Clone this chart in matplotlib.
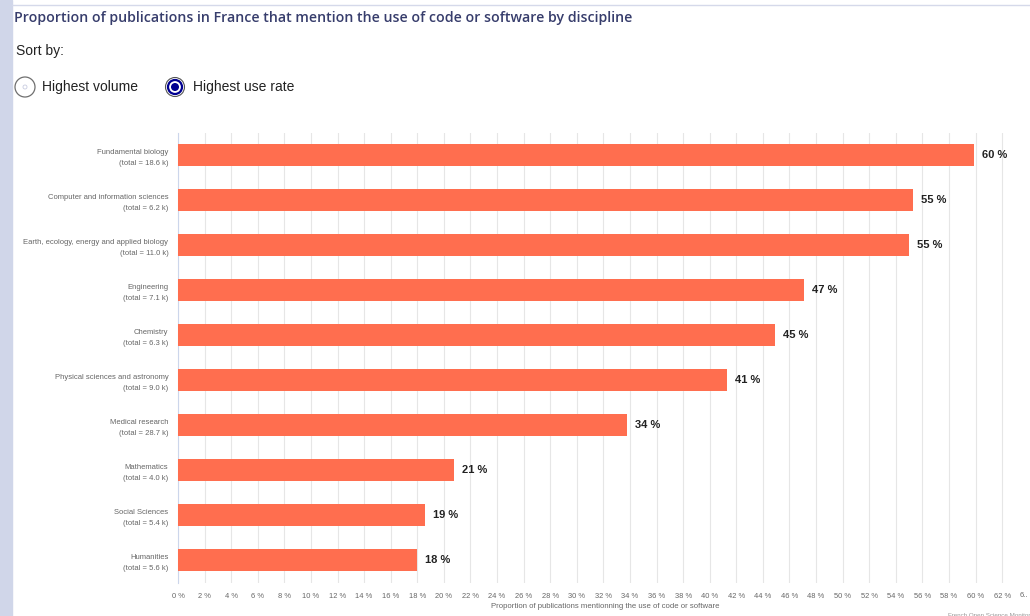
import numpy as np
import matplotlib
matplotlib.use('Agg')
import matplotlib.pyplot as plt
from matplotlib.patches import Circle, Rectangle

plt.rcParams['font.family'] = ['Liberation Sans', 'DejaVu Sans']

disciplines = ['Fundamental biology', 'Computer and information sciences',
               'Earth, ecology, energy and applied biology', 'Engineering',
               'Chemistry', 'Physical sciences and astronomy', 'Medical research',
               'Mathematics', 'Social Sciences', 'Humanities']
totals = ['18.6', '6.2', '11.0', '7.1', '6.3', '9.0', '28.7', '4.0', '5.4', '5.6']
rates = [59.9, 55.3, 55.0, 47.1, 44.9, 41.3, 33.8, 20.8, 18.6, 18.0]
rate_labels = ['60 %', '55 %', '55 %', '47 %', '45 %', '41 %', '34 %', '21 %', '19 %', '18 %']
xticks = list(range(0, 64, 2))

W, H = 1030, 616
fig = plt.figure(figsize=(W / 100, H / 100), dpi=100)
fig.patch.set_facecolor('white')

# main chart, placed in pixel terms
left, right, top, bottom = 178, 1030, 133, 583
ax = fig.add_axes([left / W, 1 - bottom / H, (right - left) / W, (bottom - top) / H])

y = np.arange(len(disciplines))
ax.barh(y, rates, height=0.47, color='#ff6e4f', zorder=3)
ax.set_xlim(0, 64.1)
ax.set_ylim(len(disciplines) - 1 + 23 / 45, -22 / 45)

ax.set_xticks(xticks)
ax.set_xticklabels([f'{t} %' for t in xticks], fontsize=5.4, color='#666666')
ax.tick_params(axis='x', length=0, pad=7)
ax.set_yticks(y)
ax.set_yticklabels([f'{d}\n(total = {t} k)' for d, t in zip(disciplines, totals)],
                   fontsize=5.5, color='#666666', linespacing=1.85)
ax.tick_params(axis='y', length=0, pad=7)
ax.grid(axis='x', color='#e6e6e6', linewidth=0.8, zorder=0)
for s in ['top', 'right', 'bottom']:
    ax.spines[s].set_visible(False)
ax.spines['left'].set_color('#ccd6eb')
ax.spines['left'].set_linewidth(0.8)

for yi, r, lab in zip(y, rates, rate_labels):
    ax.text(r + 0.6, yi, lab, va='center', ha='left', fontsize=8,
            fontweight='bold', color='#222222', zorder=4)

ax.text(63.3, len(disciplines) - 1 + 23 / 45 + 0.28, '6..', fontsize=5.4,
        color='#666666', va='center', ha='left', clip_on=False)
ax.set_xlabel('Proportion of publications mentionning the use of code or software',
              fontsize=5.6, color='#666666', labelpad=2)
ax.xaxis.set_label_coords((605 - left) / (right - left), -0.045)

# decoration overlay in pixel coordinates
ov = fig.add_axes([0, 0, 1, 1])
ov.set_xlim(0, W)
ov.set_ylim(H, 0)
ov.axis('off')
ov.patch.set_alpha(0)

ov.add_patch(Rectangle((0, 0), 12, H, color='#d0d6e9', zorder=1))
ov.plot([12, W], [5, 5], color='#d5d9ea', linewidth=1)

ov.text(14, 18, 'Proportion of publications in France that mention the use of code or software by discipline',
        fontsize=10.2, fontweight='semibold', color='#373d6c', va='center', ha='left',
        family=['Open Sans', 'Liberation Sans', 'DejaVu Sans'])
ov.text(16, 51, 'Sort by:', fontsize=10, color='#222222', va='center', ha='left')

ov.add_patch(Circle((25, 87), 10, facecolor='white', edgecolor='#6f6f6f', linewidth=0.9))
ov.add_patch(Circle((25, 87), 2, facecolor='white', edgecolor='#c8cbe0', linewidth=0.6))
ov.text(42, 87, 'Highest volume', fontsize=10, color='#222222', va='center', ha='left')

ov.add_patch(Circle((175, 87), 9.5, facecolor='white', edgecolor='#555555', linewidth=0.8))
ov.add_patch(Circle((175, 87), 7, facecolor='white', edgecolor='#000091', linewidth=1.6))
ov.add_patch(Circle((175, 87), 4, facecolor='#000091', edgecolor='none'))
ov.text(193, 87, 'Highest use rate', fontsize=10, color='#222222', va='center', ha='left')

ov.text(948, 615, 'French Open Science Monitor', fontsize=4.5, color='#999999',
        va='center', ha='left')

fig.savefig('out.png', dpi=100)
